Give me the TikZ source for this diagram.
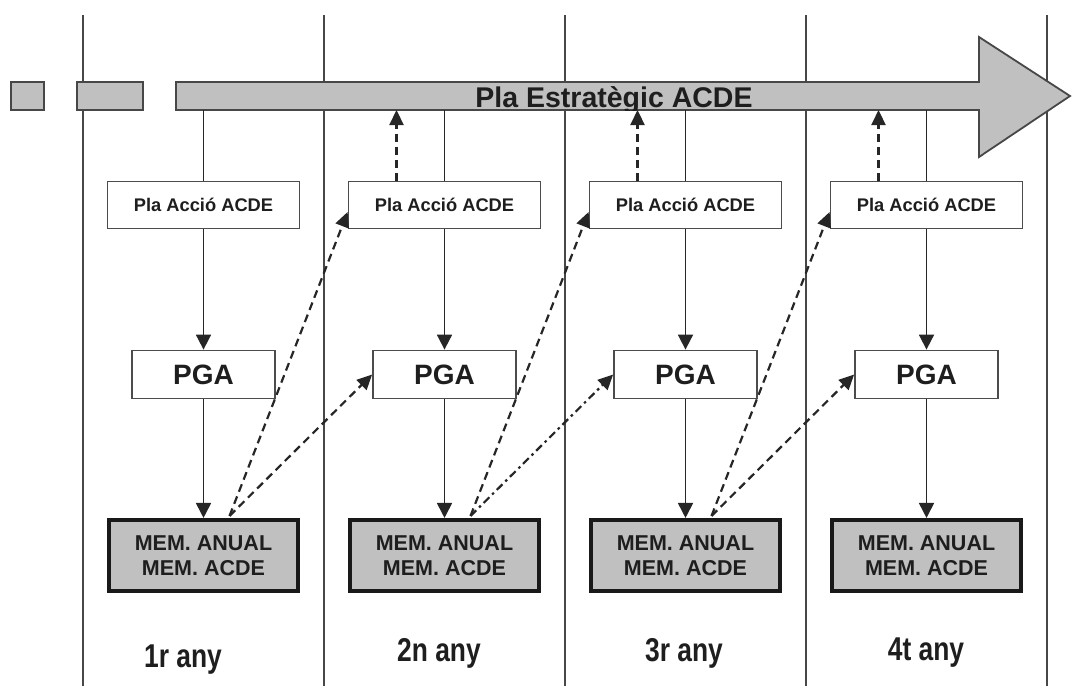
\documentclass[tikz,border=0pt]{standalone}
\usepackage{fontspec}
\setmainfont{Liberation Sans}
\usetikzlibrary{arrows.meta}
\definecolor{boxgray}{HTML}{C0C0C0}
\definecolor{inkc}{HTML}{1E1E1E}
\begin{document}
\begin{tikzpicture}[x=1pt,y=-1pt,
  colline/.style={draw=black!72, line width=1.3pt},
  shapegray/.style={draw=black!72, line width=1.8pt, fill=boxgray},
  pabox/.style={draw=black!70, line width=1.8pt, fill=white, minimum width=192pt, minimum height=47pt, inner sep=0pt, text=inkc, font=\bfseries\fontsize{18.3}{20}\selectfont},
  pgabox/.style={draw=black!70, line width=1.8pt, fill=white, minimum width=143pt, minimum height=48pt, inner sep=0pt, text=inkc, font=\bfseries\fontsize{28}{30}\selectfont},
  membox/.style={draw=black!90, line width=3.6pt, fill=boxgray, minimum width=189pt, minimum height=71.5pt, inner sep=0pt, align=center, text=inkc, font=\bfseries\fontsize{21.5}{25}\selectfont},
  yearlbl/.style={inner sep=0pt, text=inkc, font=\bfseries\fontsize{33}{36}\selectfont},
  solidarrow/.style={draw=black!85, line width=1.8pt, -{Triangle[length=15pt,width=15pt]}},
  solidline/.style={draw=black!85, line width=1.8pt},
  dasharrow/.style={draw=black!85, line width=2.2pt, dash pattern=on 8pt off 5pt, -{Triangle[length=15pt,width=14pt]}},
  dotdasharrow/.style={draw=black!85, line width=2.2pt, dash pattern=on 8pt off 4pt on 2.5pt off 4pt, -{Triangle[length=15pt,width=14pt]}}
]
\useasboundingbox (0,0) rectangle (1091,686);
% column separators
\foreach \x in {83,324,565,806,1047} \draw[colline] (\x,15) -- (\x,686);
% small boxes
\draw[shapegray] (11,82) rectangle (44,110);
\draw[shapegray] (77,82) rectangle (143,110);
% big arrow
\draw[shapegray, line join=miter] (176,82) -- (979,82) -- (979,37) -- (1070,96) -- (979,157) -- (979,110) -- (176,110) -- cycle;
\begin{scope}
\clip (176,82) rectangle (979,110.5);
\node[text=inkc, font=\bfseries\fontsize{28.5}{30}\selectfont, anchor=base, inner sep=0pt] (pe) at (614,107) {Pla Estratègic ACDE};
\end{scope}
% nodes per column
\foreach \i/\cx in {1/203.5,2/444.5,3/685.5,4/926.5}{
  \coordinate (s\i) at (\cx,110);
  \node[pabox] (pa\i) at (\cx,205) {Pla Acció ACDE};
  \node[pgabox] (pg\i) at (\cx,374.5) {PGA};
  \node[membox] (m\i) at (\cx,555.5) {MEM. ANUAL\\MEM. ACDE};
  \draw[solidline] (s\i) -- (pa\i.north);
  \draw[solidarrow] (pa\i.south) -- (pg\i.north);
  \draw[solidarrow] (pg\i.south) -- (m\i.north);
  \coordinate (ms\i) at ([xshift=26pt,yshift=2pt]m\i.north);
  \coordinate (pu\i) at ([xshift=-48pt]pa\i.north);
  \coordinate (su\i) at ([xshift=-48pt]s\i);
  \coordinate (pal\i) at ([yshift=-7pt]pa\i.west);
}
% dashed up arrows
\foreach \i in {2,3,4} \draw[dasharrow] (pu\i) -- (su\i);
% diagonal links
\draw[dasharrow] (ms1) -- (pal2);
\draw[dasharrow] (ms1) -- (pg2.west);
\draw[dasharrow] (ms2) -- (pal3);
\draw[dotdasharrow] (ms2) -- (pg3.west);
\draw[dasharrow] (ms3) -- (pal4);
\draw[dasharrow] (ms3) -- (pg4.west);
% year labels
\node[yearlbl] (y1) at (183,660) {\scalebox{0.8}[1]{1r any}};
\node[yearlbl] (y2) at (439,653) {\scalebox{0.8}[1]{2n any}};
\node[yearlbl] (y3) at (684,653) {\scalebox{0.8}[1]{3r any}};
\node[yearlbl] (y4) at (926,653) {\scalebox{0.8}[1]{4t any}};
\end{tikzpicture}
\end{document}
